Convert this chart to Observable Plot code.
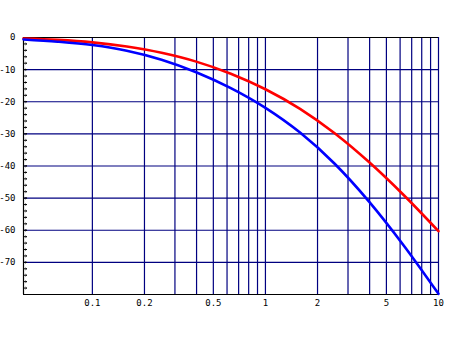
<!DOCTYPE html>
<html><head><meta charset="utf-8">
<script src="https://cdn.jsdelivr.net/npm/d3@7"></script>
<script src="https://cdn.jsdelivr.net/npm/@observablehq/plot@0.6"></script>
<style>body{margin:0;background:#fff}</style>
</head><body><div id="chart"></div>
<script>
const freq   = [0.04, 0.063, 0.1, 0.158, 0.251, 0.398, 0.631, 1, 1.585, 2.512, 3.981, 6.31, 10];
const redDb  = [-0.3, -0.73, -1.51, -2.81, -4.76, -7.51, -11.26, -16.11, -22.21, -29.81, -38.86, -49.11, -60.3];
const blueDb = [-0.6, -1.3, -2.35, -4.1, -6.9, -10.8, -15.75, -21.9, -29.6, -39.3, -51.15, -64.8, -79.8];
const xGrid = [0.1, 0.2, 0.3, 0.4, 0.5, 0.6, 0.7, 0.8, 0.9, 1, 2, 3, 4, 5, 6, 7, 8, 9, 10];
const xTickLabels = [0.1, 0.2, 0.5, 1, 2, 5, 10];
const yGrid = [-10, -20, -30, -40, -50, -60, -70];
const yTickLabels = [0, -10, -20, -30, -40, -50, -60, -70];
const yMinor = d3.range(-2, -80, -2);

const redRows = freq.map((f, i) => ({f, db: redDb[i]}));
const blueRows = freq.map((f, i) => ({f, db: blueDb[i]}));

const chart = Plot.plot({
  width: 449, height: 349,
  marginLeft: 23, marginRight: 11, marginTop: 37, marginBottom: 55,
  x: {type: "log", domain: [0.04, 10], axis: null},
  y: {domain: [-80, 0], axis: null},
  style: {fontFamily: "DejaVu Sans Mono", fontSize: "9px", background: "#fff", color: "#000"},
  marks: [
    Plot.ruleX(xGrid, {stroke: "#000080", strokeWidth: 1.2}),
    Plot.ruleY(yGrid, {stroke: "#000080", strokeWidth: 1.2}),
    Plot.ruleX([0.04], {stroke: "#000", strokeWidth: 1.2}),
    Plot.ruleY([-80, 0], {stroke: "#000", strokeWidth: 1.2}),
    Plot.vector(yMinor, {y: d => d, frameAnchor: "left", rotate: 90, length: 3, anchor: "start", stroke: "#000", strokeWidth: 1}),
    Plot.text(yTickLabels, {y: d => d, frameAnchor: "left", dx: -8, textAnchor: "end", text: d => String(d), fill: "#000"}),
    Plot.text(xTickLabels, {x: d => d, frameAnchor: "bottom", dy: 11, text: d => String(d), fill: "#000"}),
    Plot.line(redRows, {x: "f", y: "db", stroke: "#ff0000", strokeWidth: 2.6, curve: "monotone-x"}),
    Plot.line(blueRows, {x: "f", y: "db", stroke: "#0000ff", strokeWidth: 2.6, curve: "monotone-x"})
  ]
});
document.getElementById("chart").appendChild(chart);
</script>
</body></html>
